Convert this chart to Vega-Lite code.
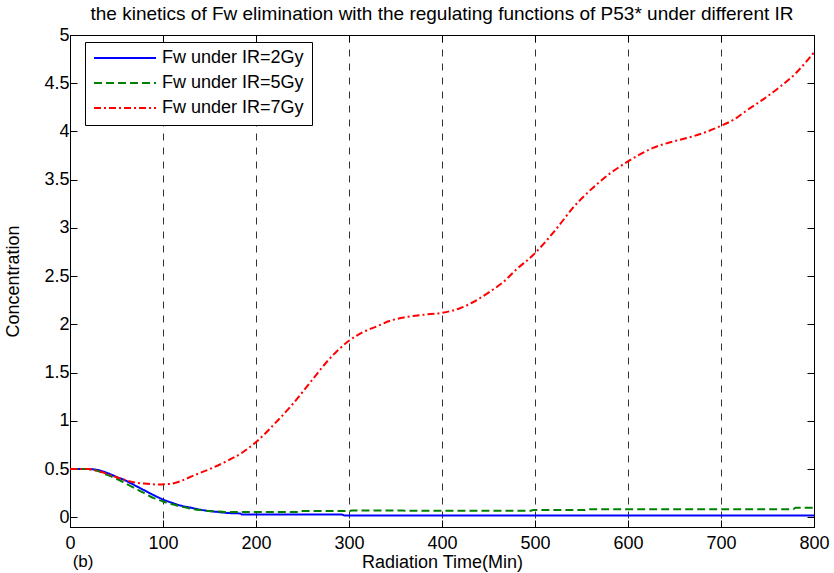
{
  "$schema": "https://vega.github.io/schema/vega-lite/v6.json",
  "width": 744,
  "height": 492,
  "autosize": {"type": "none"},
  "padding": {"left": 70, "top": 35, "right": 20, "bottom": 46},
  "background": "white",
  "title": {
    "text": "the kinetics of Fw elimination with the regulating functions of P53* under different IR",
    "font": "Liberation Sans",
    "fontSize": 19,
    "fontWeight": "normal",
    "color": "black",
    "anchor": "middle",
    "dx": 0,
    "offset": 2
  },
  "config": {
    "view": {"stroke": "black", "strokeWidth": 1},
    "font": "Liberation Sans",
    "axis": {
      "labelFont": "Liberation Sans",
      "labelFontSize": 18,
      "labelColor": "black",
      "titleFont": "Liberation Sans",
      "titleFontSize": 18,
      "titleFontWeight": "normal",
      "titleColor": "black",
      "tickColor": "black",
      "tickSize": -7,
      "domainColor": "black",
      "grid": false
    }
  },
  "datasets": {
    "curves": [
      {"t": 0, "v": 0.5, "s": "Fw under IR=2Gy"},
      {"t": 10, "v": 0.5, "s": "Fw under IR=2Gy"},
      {"t": 20, "v": 0.5, "s": "Fw under IR=2Gy"},
      {"t": 30, "v": 0.49, "s": "Fw under IR=2Gy"},
      {"t": 40, "v": 0.46, "s": "Fw under IR=2Gy"},
      {"t": 50, "v": 0.42, "s": "Fw under IR=2Gy"},
      {"t": 60, "v": 0.38, "s": "Fw under IR=2Gy"},
      {"t": 70, "v": 0.33, "s": "Fw under IR=2Gy"},
      {"t": 80, "v": 0.28, "s": "Fw under IR=2Gy"},
      {"t": 90, "v": 0.23, "s": "Fw under IR=2Gy"},
      {"t": 100, "v": 0.185, "s": "Fw under IR=2Gy"},
      {"t": 110, "v": 0.15, "s": "Fw under IR=2Gy"},
      {"t": 120, "v": 0.12, "s": "Fw under IR=2Gy"},
      {"t": 130, "v": 0.1, "s": "Fw under IR=2Gy"},
      {"t": 140, "v": 0.08, "s": "Fw under IR=2Gy"},
      {"t": 150, "v": 0.065, "s": "Fw under IR=2Gy"},
      {"t": 160, "v": 0.055, "s": "Fw under IR=2Gy"},
      {"t": 170, "v": 0.045, "s": "Fw under IR=2Gy"},
      {"t": 183, "v": 0.04, "s": "Fw under IR=2Gy"},
      {"t": 185, "v": 0.03, "s": "Fw under IR=2Gy"},
      {"t": 292, "v": 0.03, "s": "Fw under IR=2Gy"},
      {"t": 295, "v": 0.02, "s": "Fw under IR=2Gy"},
      {"t": 800, "v": 0.02, "s": "Fw under IR=2Gy"},
      {"t": 0, "v": 0.5, "s": "Fw under IR=5Gy"},
      {"t": 10, "v": 0.5, "s": "Fw under IR=5Gy"},
      {"t": 20, "v": 0.5, "s": "Fw under IR=5Gy"},
      {"t": 30, "v": 0.48, "s": "Fw under IR=5Gy"},
      {"t": 40, "v": 0.44, "s": "Fw under IR=5Gy"},
      {"t": 50, "v": 0.4, "s": "Fw under IR=5Gy"},
      {"t": 60, "v": 0.35, "s": "Fw under IR=5Gy"},
      {"t": 70, "v": 0.3, "s": "Fw under IR=5Gy"},
      {"t": 80, "v": 0.25, "s": "Fw under IR=5Gy"},
      {"t": 90, "v": 0.2, "s": "Fw under IR=5Gy"},
      {"t": 100, "v": 0.165, "s": "Fw under IR=5Gy"},
      {"t": 110, "v": 0.135, "s": "Fw under IR=5Gy"},
      {"t": 120, "v": 0.11, "s": "Fw under IR=5Gy"},
      {"t": 130, "v": 0.09, "s": "Fw under IR=5Gy"},
      {"t": 140, "v": 0.075, "s": "Fw under IR=5Gy"},
      {"t": 150, "v": 0.065, "s": "Fw under IR=5Gy"},
      {"t": 160, "v": 0.06, "s": "Fw under IR=5Gy"},
      {"t": 170, "v": 0.055, "s": "Fw under IR=5Gy"},
      {"t": 245, "v": 0.055, "s": "Fw under IR=5Gy"},
      {"t": 247, "v": 0.065, "s": "Fw under IR=5Gy"},
      {"t": 300, "v": 0.065, "s": "Fw under IR=5Gy"},
      {"t": 303, "v": 0.072, "s": "Fw under IR=5Gy"},
      {"t": 358, "v": 0.072, "s": "Fw under IR=5Gy"},
      {"t": 360, "v": 0.068, "s": "Fw under IR=5Gy"},
      {"t": 495, "v": 0.068, "s": "Fw under IR=5Gy"},
      {"t": 498, "v": 0.075, "s": "Fw under IR=5Gy"},
      {"t": 553, "v": 0.075, "s": "Fw under IR=5Gy"},
      {"t": 556, "v": 0.085, "s": "Fw under IR=5Gy"},
      {"t": 778, "v": 0.085, "s": "Fw under IR=5Gy"},
      {"t": 780, "v": 0.1, "s": "Fw under IR=5Gy"},
      {"t": 800, "v": 0.1, "s": "Fw under IR=5Gy"},
      {"t": 0, "v": 0.5, "s": "Fw under IR=7Gy"},
      {"t": 10, "v": 0.5, "s": "Fw under IR=7Gy"},
      {"t": 20, "v": 0.5, "s": "Fw under IR=7Gy"},
      {"t": 30, "v": 0.48, "s": "Fw under IR=7Gy"},
      {"t": 40, "v": 0.45, "s": "Fw under IR=7Gy"},
      {"t": 50, "v": 0.415, "s": "Fw under IR=7Gy"},
      {"t": 60, "v": 0.385, "s": "Fw under IR=7Gy"},
      {"t": 70, "v": 0.36, "s": "Fw under IR=7Gy"},
      {"t": 80, "v": 0.35, "s": "Fw under IR=7Gy"},
      {"t": 95, "v": 0.34, "s": "Fw under IR=7Gy"},
      {"t": 110, "v": 0.35, "s": "Fw under IR=7Gy"},
      {"t": 120, "v": 0.38, "s": "Fw under IR=7Gy"},
      {"t": 132, "v": 0.43, "s": "Fw under IR=7Gy"},
      {"t": 150, "v": 0.5, "s": "Fw under IR=7Gy"},
      {"t": 168, "v": 0.58, "s": "Fw under IR=7Gy"},
      {"t": 185, "v": 0.67, "s": "Fw under IR=7Gy"},
      {"t": 200, "v": 0.78, "s": "Fw under IR=7Gy"},
      {"t": 220, "v": 0.97, "s": "Fw under IR=7Gy"},
      {"t": 240, "v": 1.18, "s": "Fw under IR=7Gy"},
      {"t": 260, "v": 1.42, "s": "Fw under IR=7Gy"},
      {"t": 276, "v": 1.61, "s": "Fw under IR=7Gy"},
      {"t": 290, "v": 1.75, "s": "Fw under IR=7Gy"},
      {"t": 300, "v": 1.83, "s": "Fw under IR=7Gy"},
      {"t": 315, "v": 1.92, "s": "Fw under IR=7Gy"},
      {"t": 330, "v": 1.98, "s": "Fw under IR=7Gy"},
      {"t": 345, "v": 2.04, "s": "Fw under IR=7Gy"},
      {"t": 358, "v": 2.07, "s": "Fw under IR=7Gy"},
      {"t": 380, "v": 2.1, "s": "Fw under IR=7Gy"},
      {"t": 400, "v": 2.12, "s": "Fw under IR=7Gy"},
      {"t": 420, "v": 2.17, "s": "Fw under IR=7Gy"},
      {"t": 437, "v": 2.25, "s": "Fw under IR=7Gy"},
      {"t": 450, "v": 2.33, "s": "Fw under IR=7Gy"},
      {"t": 466, "v": 2.44, "s": "Fw under IR=7Gy"},
      {"t": 480, "v": 2.57, "s": "Fw under IR=7Gy"},
      {"t": 498, "v": 2.72, "s": "Fw under IR=7Gy"},
      {"t": 516, "v": 2.91, "s": "Fw under IR=7Gy"},
      {"t": 527, "v": 3.04, "s": "Fw under IR=7Gy"},
      {"t": 540, "v": 3.2, "s": "Fw under IR=7Gy"},
      {"t": 556, "v": 3.36, "s": "Fw under IR=7Gy"},
      {"t": 580, "v": 3.56, "s": "Fw under IR=7Gy"},
      {"t": 600, "v": 3.69, "s": "Fw under IR=7Gy"},
      {"t": 627, "v": 3.83, "s": "Fw under IR=7Gy"},
      {"t": 650, "v": 3.9, "s": "Fw under IR=7Gy"},
      {"t": 670, "v": 3.95, "s": "Fw under IR=7Gy"},
      {"t": 698, "v": 4.05, "s": "Fw under IR=7Gy"},
      {"t": 715, "v": 4.13, "s": "Fw under IR=7Gy"},
      {"t": 728, "v": 4.22, "s": "Fw under IR=7Gy"},
      {"t": 745, "v": 4.33, "s": "Fw under IR=7Gy"},
      {"t": 763, "v": 4.46, "s": "Fw under IR=7Gy"},
      {"t": 780, "v": 4.6, "s": "Fw under IR=7Gy"},
      {"t": 800, "v": 4.82, "s": "Fw under IR=7Gy"}
    ],
    "note": [{"t": 14, "v": -0.46, "label": "(b)"}]
  },
  "layer": [
    {
      "data": {"name": "curves"},
      "mark": {"type": "line", "strokeWidth": 2, "clip": true, "interpolate": "monotone"},
      "encoding": {
        "x": {
          "field": "t", "type": "quantitative",
          "scale": {"domain": [0, 800], "nice": false, "zero": false},
          "axis": {
            "orient": "bottom",
            "title": "Radiation Time(Min)",
            "values": [0, 100, 200, 300, 400, 500, 600, 700, 800],
            "format": "d",
            "labelPadding": 14,
            "titlePadding": 1,
            "grid": true,
            "gridDash": [7, 7],
            "gridColor": "#333333",
            "gridWidth": 1,
            "gridOpacity": 1,
            "labelFlush": false
          }
        },
        "y": {
          "field": "v", "type": "quantitative",
          "scale": {"domain": [-0.1, 5], "nice": false, "zero": false},
          "axis": {
            "orient": "left",
            "title": "Concentration",
            "values": [0, 0.5, 1, 1.5, 2, 2.5, 3, 3.5, 4, 4.5, 5],
            "format": ".1~f",
            "labelPadding": 8,
            "titlePadding": 21
          }
        },
        "color": {
          "field": "s", "type": "nominal",
          "scale": {"domain": ["Fw under IR=2Gy", "Fw under IR=5Gy", "Fw under IR=7Gy"], "range": ["#0000ff", "#008000", "#ff0000"]},
          "legend": {
            "title": null,
            "orient": "none",
            "legendX": 15,
            "legendY": 7,
            "strokeColor": "black",
            "fillColor": "white",
            "padding": 8,
            "symbolType": "stroke",
            "symbolSize": 3844,
            "symbolStrokeWidth": 2,
            "labelFont": "Liberation Sans",
            "labelFontSize": 18,
            "labelColor": "black",
            "labelOffset": 5,
            "clipHeight": 16,
            "rowPadding": 7,
            "labelLimit": 300
          }
        },
        "strokeDash": {
          "field": "s", "type": "nominal",
          "scale": {"domain": ["Fw under IR=2Gy", "Fw under IR=5Gy", "Fw under IR=7Gy"], "range": [[1, 0], [8, 4], [7, 3, 2, 3]]},
          "legend": {
            "title": null,
            "orient": "none",
            "legendX": 15,
            "legendY": 7,
            "strokeColor": "black",
            "fillColor": "white",
            "padding": 8,
            "symbolType": "stroke",
            "symbolSize": 3844,
            "symbolStrokeWidth": 2,
            "labelFont": "Liberation Sans",
            "labelFontSize": 18,
            "labelColor": "black",
            "labelOffset": 5,
            "clipHeight": 16,
            "rowPadding": 7,
            "labelLimit": 300
          }
        }
      }
    },
    {
      "data": {"name": "curves"},
      "mark": {"type": "point", "opacity": 0},
      "encoding": {
        "x": {
          "field": "t", "type": "quantitative",
          "axis": {"orient": "top", "title": null, "labels": false, "values": [0, 100, 200, 300, 400, 500, 600, 700, 800], "grid": false}
        },
        "y": {
          "field": "v", "type": "quantitative",
          "axis": {"orient": "right", "title": null, "labels": false, "values": [0, 0.5, 1, 1.5, 2, 2.5, 3, 3.5, 4, 4.5, 5], "grid": false}
        }
      }
    },
    {
      "data": {"name": "note"},
      "mark": {"type": "text", "fontSize": 17, "font": "Liberation Sans", "color": "black"},
      "encoding": {
        "x": {"field": "t", "type": "quantitative", "axis": null},
        "y": {"field": "v", "type": "quantitative", "axis": null},
        "text": {"field": "label"}
      }
    }
  ],
  "resolve": {"axis": {"x": "independent", "y": "independent"}}
}
